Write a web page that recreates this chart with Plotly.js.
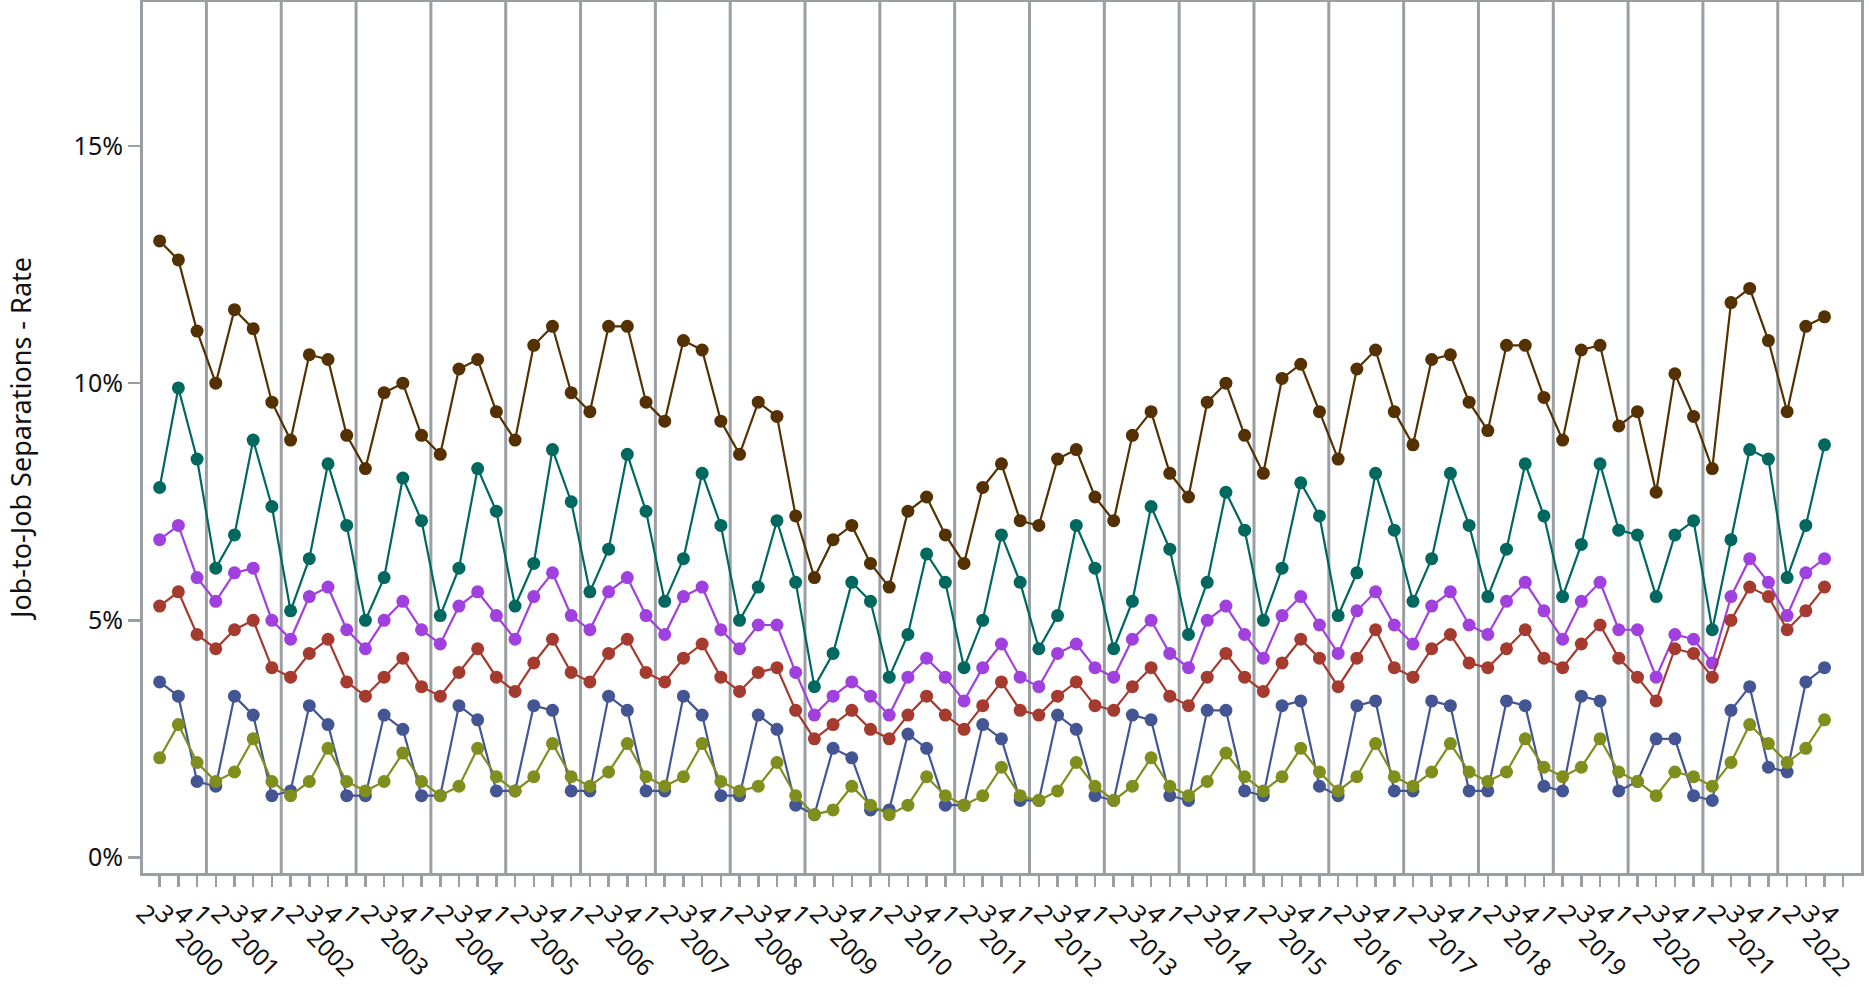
<!DOCTYPE html>
<html>
<head>
<meta charset="utf-8">
<script src="https://cdn.plot.ly/plotly-3.0.1.min.js"></script>
<style>html,body{margin:0;padding:0;background:#fff;}#chart{width:1869px;height:987px;}</style>
</head>
<body>
<div id="chart"></div>
<script>
// Quarter labels (2000 Q2 .. 2022 Q4)
var quarters = ["2","3","4"];
var years = [2000];
var yearStart = [0];
for (var y = 2001; y <= 2022; y++) {
  years.push(y);
  yearStart.push(quarters.length);
  quarters.push("1","2","3","4");
}
var yTicks = [0, 5, 10, 15];

// Series values (%), 2000 Q2 .. 2022 Q3
var seriesBrown = [13.0,12.6,11.1, 10.0,11.55,11.15,9.6, 8.8,10.6,10.5,8.9, 8.2,9.8,10.0,8.9, 8.5,10.3,10.5,9.4,
  8.8,10.8,11.2,9.8, 9.4,11.2,11.2,9.6, 9.2,10.9,10.7,9.2, 8.5,9.6,9.3,7.2, 5.9,6.7,7.0,6.2, 5.7,7.3,7.6,6.8,
  6.2,7.8,8.3,7.1, 7.0,8.4,8.6,7.6, 7.1,8.9,9.4,8.1, 7.6,9.6,10.0,8.9, 8.1,10.1,10.4,9.4, 8.4,10.3,10.7,9.4,
  8.7,10.5,10.6,9.6, 9.0,10.8,10.8,9.7, 8.8,10.7,10.8,9.1, 9.4,7.7,10.2,9.3, 8.2,11.7,12.0,10.9, 9.4,11.2,11.4];
var seriesTeal = [7.8,9.9,8.4, 6.1,6.8,8.8,7.4, 5.2,6.3,8.3,7.0, 5.0,5.9,8.0,7.1, 5.1,6.1,8.2,7.3,
  5.3,6.2,8.6,7.5, 5.6,6.5,8.5,7.3, 5.4,6.3,8.1,7.0, 5.0,5.7,7.1,5.8, 3.6,4.3,5.8,5.4, 3.8,4.7,6.4,5.8,
  4.0,5.0,6.8,5.8, 4.4,5.1,7.0,6.1, 4.4,5.4,7.4,6.5, 4.7,5.8,7.7,6.9, 5.0,6.1,7.9,7.2, 5.1,6.0,8.1,6.9,
  5.4,6.3,8.1,7.0, 5.5,6.5,8.3,7.2, 5.5,6.6,8.3,6.9, 6.8,5.5,6.8,7.1, 4.8,6.7,8.6,8.4, 5.9,7.0,8.7];
var seriesPurple = [6.7,7.0,5.9, 5.4,6.0,6.1,5.0, 4.6,5.5,5.7,4.8, 4.4,5.0,5.4,4.8, 4.5,5.3,5.6,5.1,
  4.6,5.5,6.0,5.1, 4.8,5.6,5.9,5.1, 4.7,5.5,5.7,4.8, 4.4,4.9,4.9,3.9, 3.0,3.4,3.7,3.4, 3.0,3.8,4.2,3.8,
  3.3,4.0,4.5,3.8, 3.6,4.3,4.5,4.0, 3.8,4.6,5.0,4.3, 4.0,5.0,5.3,4.7, 4.2,5.1,5.5,4.9, 4.3,5.2,5.6,4.9,
  4.5,5.3,5.6,4.9, 4.7,5.4,5.8,5.2, 4.6,5.4,5.8,4.8, 4.8,3.8,4.7,4.6, 4.1,5.5,6.3,5.8, 5.1,6.0,6.3];
var seriesRed = [5.3,5.6,4.7, 4.4,4.8,5.0,4.0, 3.8,4.3,4.6,3.7, 3.4,3.8,4.2,3.6, 3.4,3.9,4.4,3.8,
  3.5,4.1,4.6,3.9, 3.7,4.3,4.6,3.9, 3.7,4.2,4.5,3.8, 3.5,3.9,4.0,3.1, 2.5,2.8,3.1,2.7, 2.5,3.0,3.4,3.0,
  2.7,3.2,3.7,3.1, 3.0,3.4,3.7,3.2, 3.1,3.6,4.0,3.4, 3.2,3.8,4.3,3.8, 3.5,4.1,4.6,4.2, 3.6,4.2,4.8,4.0,
  3.8,4.4,4.7,4.1, 4.0,4.4,4.8,4.2, 4.0,4.5,4.9,4.2, 3.8,3.3,4.4,4.3, 3.8,5.0,5.7,5.5, 4.8,5.2,5.7];
var seriesBlue = [3.7,3.4,1.6, 1.5,3.4,3.0,1.3, 1.4,3.2,2.8,1.3, 1.3,3.0,2.7,1.3, 1.3,3.2,2.9,1.4,
  1.4,3.2,3.1,1.4, 1.4,3.4,3.1,1.4, 1.4,3.4,3.0,1.3, 1.3,3.0,2.7,1.1, 0.9,2.3,2.1,1.0, 1.0,2.6,2.3,1.1,
  1.1,2.8,2.5,1.2, 1.2,3.0,2.7,1.3, 1.2,3.0,2.9,1.3, 1.2,3.1,3.1,1.4, 1.3,3.2,3.3,1.5, 1.3,3.2,3.3,1.4,
  1.4,3.3,3.2,1.4, 1.4,3.3,3.2,1.5, 1.4,3.4,3.3,1.4, 1.6,2.5,2.5,1.3, 1.2,3.1,3.6,1.9, 1.8,3.7,4.0];
var seriesOlive = [2.1,2.8,2.0, 1.6,1.8,2.5,1.6, 1.3,1.6,2.3,1.6, 1.4,1.6,2.2,1.6, 1.3,1.5,2.3,1.7,
  1.4,1.7,2.4,1.7, 1.5,1.8,2.4,1.7, 1.5,1.7,2.4,1.6, 1.4,1.5,2.0,1.3, 0.9,1.0,1.5,1.1, 0.9,1.1,1.7,1.3,
  1.1,1.3,1.9,1.3, 1.2,1.4,2.0,1.5, 1.2,1.5,2.1,1.5, 1.3,1.6,2.2,1.7, 1.4,1.7,2.3,1.8, 1.4,1.7,2.4,1.7,
  1.5,1.8,2.4,1.8, 1.6,1.8,2.5,1.9, 1.7,1.9,2.5,1.8, 1.6,1.3,1.8,1.7, 1.5,2.0,2.8,2.4, 2.0,2.3,2.9];

var seriesList = [
  {name: "Series 1", values: seriesBrown, color: "#553000"},
  {name: "Series 2", values: seriesTeal, color: "#00685E"},
  {name: "Series 3", values: seriesPurple, color: "#A040DE"},
  {name: "Series 4", values: seriesRed, color: "#A43B2E"},
  {name: "Series 5", values: seriesBlue, color: "#445594"},
  {name: "Series 6", values: seriesOlive, color: "#808E1E"}
];

var xIdx = quarters.map(function(_, i){ return i; });

var traces = seriesList.map(function(s){
  return {
    type: "scatter", mode: "lines+markers", name: s.name,
    x: xIdx.slice(0, s.values.length), y: s.values,
    line: {color: s.color, width: 2.2},
    marker: {color: s.color, size: 13},
    showlegend: false,
    hovertemplate: "%{y:.1f}%<extra>" + s.name + "</extra>"
  };
});

var gridColor = "#9A9FA4";
var font = {family: "'Noto Sans', 'DejaVu Sans', sans-serif", size: 25, color: "#111"};
var yearFont = {family: font.family, size: 24, color: "#111"};

var shapes = yearStart.slice(1).map(function(s){
  return {type: "line", xref: "x", yref: "paper", x0: s - 0.5, x1: s - 0.5, y0: 0, y1: 1,
          line: {color: gridColor, width: 3}, layer: "below"};
});

var annotations = years.map(function(yr, k){
  return {xref: "x", yref: "paper", x: yearStart[k] + 2, y: -0.0905, xshift: 3,
          xanchor: "center", yanchor: "middle", text: String(yr), textangle: 45,
          showarrow: false, font: yearFont};
});

var layout = {
  width: 1869, height: 987,
  margin: {l: 143, r: 8, t: 2, b: 114},
  paper_bgcolor: "#fff", plot_bgcolor: "#fff",
  font: font,
  xaxis: {
    range: [-0.89, 90.95], tickmode: "array", tickvals: xIdx, ticktext: quarters,
    tickangle: 45, ticks: "outside", ticklen: 11, tickwidth: 2.5, tickcolor: gridColor,
    showline: true, linecolor: gridColor, linewidth: 3, mirror: true,
    showgrid: false, zeroline: false, ticklabelshift: -16, ticklabelstandoff: 2,
    tickfont: font, automargin: false
  },
  yaxis: {
    range: [-0.33, 18.04], tickmode: "array", tickvals: yTicks,
    ticktext: yTicks.map(function(v){ return v + "%"; }),
    ticks: "outside", ticklen: 12, tickwidth: 2.5, tickcolor: gridColor,
    showline: true, linecolor: gridColor, linewidth: 3, mirror: true,
    showgrid: false, zeroline: false, tickfont: font, automargin: false,
    title: {text: "Job-to-Job Separations - Rate", font: {family: font.family, size: 27, color: "#111"}, standoff: 35}
  },
  shapes: shapes,
  annotations: annotations
};

Plotly.newPlot("chart", traces, layout, {displayModeBar: false, staticPlot: true});
</script>
</body>
</html>
